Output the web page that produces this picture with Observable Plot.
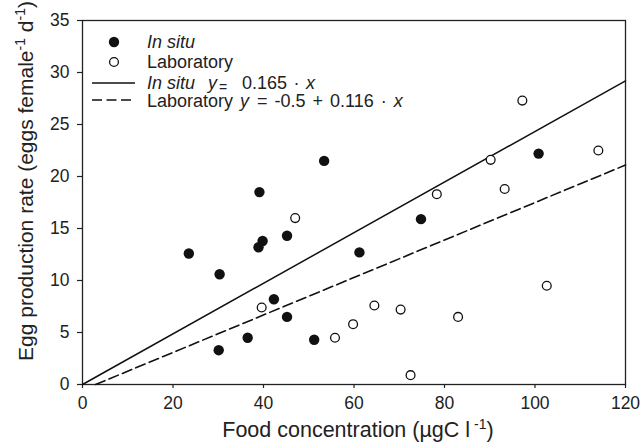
<!DOCTYPE html>
<html>
<head>
<meta charset="utf-8">
<script src="https://cdn.jsdelivr.net/npm/d3@7"></script>
<script src="https://cdn.jsdelivr.net/npm/@observablehq/plot@0.6"></script>
<style>
  html, body { margin: 0; padding: 0; background: #fff; }
  #chart { width: 642px; height: 443px; }
</style>
</head>
<body>
<div id="chart"></div>
<script>
// In situ (filled circles)
const inSituFood = [23.5, 30.3, 30.1, 36.5, 38.9, 39.1, 39.8, 42.3, 45.2, 45.2, 51.2, 53.4, 61.2, 74.8, 100.8];
const inSituEgg  = [12.6, 10.6, 3.3, 4.5, 13.2, 18.5, 13.8, 8.2, 14.3, 6.5, 4.3, 21.5, 12.7, 15.9, 22.2];
// Laboratory (open circles)
const labFood = [39.6, 47.0, 55.8, 59.8, 64.5, 70.3, 72.5, 78.3, 83.0, 90.2, 93.3, 97.2, 102.6, 114.0];
const labEgg  = [7.4, 16.0, 4.5, 5.8, 7.6, 7.2, 0.9, 18.3, 6.5, 21.6, 18.8, 27.3, 9.5, 22.5];
// Regression lines as drawn (end points)
const inSituLineX = [0, 120];
const inSituLineY = [0, 29.2];
const labLineX = [2.9, 120];
const labLineY = [0, 21.1];
// Axis ticks
const xTicks = [0, 20, 40, 60, 80, 100, 120];
const yTicks = [0, 5, 10, 15, 20, 25, 30, 35];

const inSitu = inSituFood.map((x, i) => ({x, y: inSituEgg[i]}));
const lab = labFood.map((x, i) => ({x, y: labEgg[i]}));
const inSituLine = inSituLineX.map((x, i) => ({x, y: inSituLineY[i]}));
const labLine = labLineX.map((x, i) => ({x, y: labLineY[i]}));

const FONT = "'Liberation Sans', Arial, Helvetica, sans-serif";

const svg = Plot.plot({
  width: 642,
  height: 443,
  marginLeft: 82,
  marginRight: 17,
  marginTop: 20,
  marginBottom: 59,
  style: { fontFamily: FONT, fontSize: "17px", color: "#222", background: "#fff" },
  x: { domain: [0, 120] },
  y: { domain: [0, 35] },
  marks: [
    Plot.frame({ stroke: "#222", strokeWidth: 1.3 }),
    Plot.axisX({ ticks: xTicks, tickSize: 4, tickPadding: 8, label: null, fontSize: 17.5, stroke: "#222", strokeWidth: 1.2 }),
    Plot.axisY({ ticks: yTicks, tickSize: 5, tickPadding: 8, label: null, fontSize: 17.5, stroke: "#222", strokeWidth: 1.2 }),
    Plot.line(inSituLine, { x: "x", y: "y", stroke: "#111", strokeWidth: 1.5 }),
    Plot.line(labLine, { x: "x", y: "y", stroke: "#111", strokeWidth: 1.6, strokeDasharray: "10,4.5" }),
    Plot.dot(lab, { x: "x", y: "y", r: 4.4, fill: "#fff", stroke: "#111", strokeWidth: 1.3 }),
    Plot.dot(inSitu, { x: "x", y: "y", r: 5.2, fill: "#111", stroke: "none" })
  ]
});

const s = d3.select(svg);

// Axis titles
const xt = s.append("text")
  .attr("x", 358).attr("y", 437)
  .attr("text-anchor", "middle")
  .style("font-family", FONT).style("font-size", "21.5px").attr("fill", "#222");
xt.append("tspan").text("Food concentration (µgC l");
xt.append("tspan").attr("dx", 4).attr("dy", -8).style("font-size", "14px").text("-1");
xt.append("tspan").attr("dy", 8).text(")");

const yt = s.append("text")
  .attr("transform", "translate(33,181) rotate(-90)")
  .attr("text-anchor", "middle")
  .style("font-family", FONT).style("font-size", "21px").attr("fill", "#222");
yt.append("tspan").text("Egg production rate (eggs female");
yt.append("tspan").attr("dy", -8).style("font-size", "14px").text("-1");
yt.append("tspan").attr("dy", 8).text(" d");
yt.append("tspan").attr("dy", -8).style("font-size", "14px").text("-1");
yt.append("tspan").attr("dy", 8).text(")");

// Legend
const lg = s.append("g").attr("text-anchor", "start").style("font-family", FONT).style("font-size", "18px").attr("fill", "#222");
lg.append("circle").attr("cx", 114).attr("cy", 42).attr("r", 5.2).attr("fill", "#111");
lg.append("circle").attr("cx", 114).attr("cy", 62).attr("r", 4.4).attr("fill", "#fff").attr("stroke", "#111").attr("stroke-width", 1.3);
lg.append("line").attr("x1", 92).attr("x2", 135).attr("y1", 83).attr("y2", 83).attr("stroke", "#111").attr("stroke-width", 1.5);
lg.append("line").attr("x1", 92).attr("x2", 135).attr("y1", 100).attr("y2", 100).attr("stroke", "#111").attr("stroke-width", 1.6).attr("stroke-dasharray", "10,4.5");

lg.append("text").attr("x", 147).attr("y", 48).style("font-style", "italic").text("In situ");
lg.append("text").attr("x", 147).attr("y", 68).text("Laboratory");

const t3 = lg.append("text").attr("x", 147).attr("y", 88.5);
t3.append("tspan").style("font-style", "italic").text("In situ");
t3.append("tspan").attr("x", 208).style("font-style", "italic").text("y");
t3.append("tspan").attr("x", 219).attr("dy", 3).style("font-size", "14px").text("=");
t3.append("tspan").attr("x", 242).attr("dy", -3).style("word-spacing", "1.5px").text("0.165 · ");
t3.append("tspan").style("font-style", "italic").text("x");

const t4 = lg.append("text").attr("x", 147).attr("y", 106.5);
t4.append("tspan").text("Laboratory");
t4.append("tspan").attr("x", 240).style("font-style", "italic").text("y");
t4.append("tspan").attr("x", 257).style("word-spacing", "2px").text("= -0.5 + 0.116 · ");
t4.append("tspan").style("font-style", "italic").text("x");

document.getElementById("chart").appendChild(svg);
</script>
</body>
</html>
